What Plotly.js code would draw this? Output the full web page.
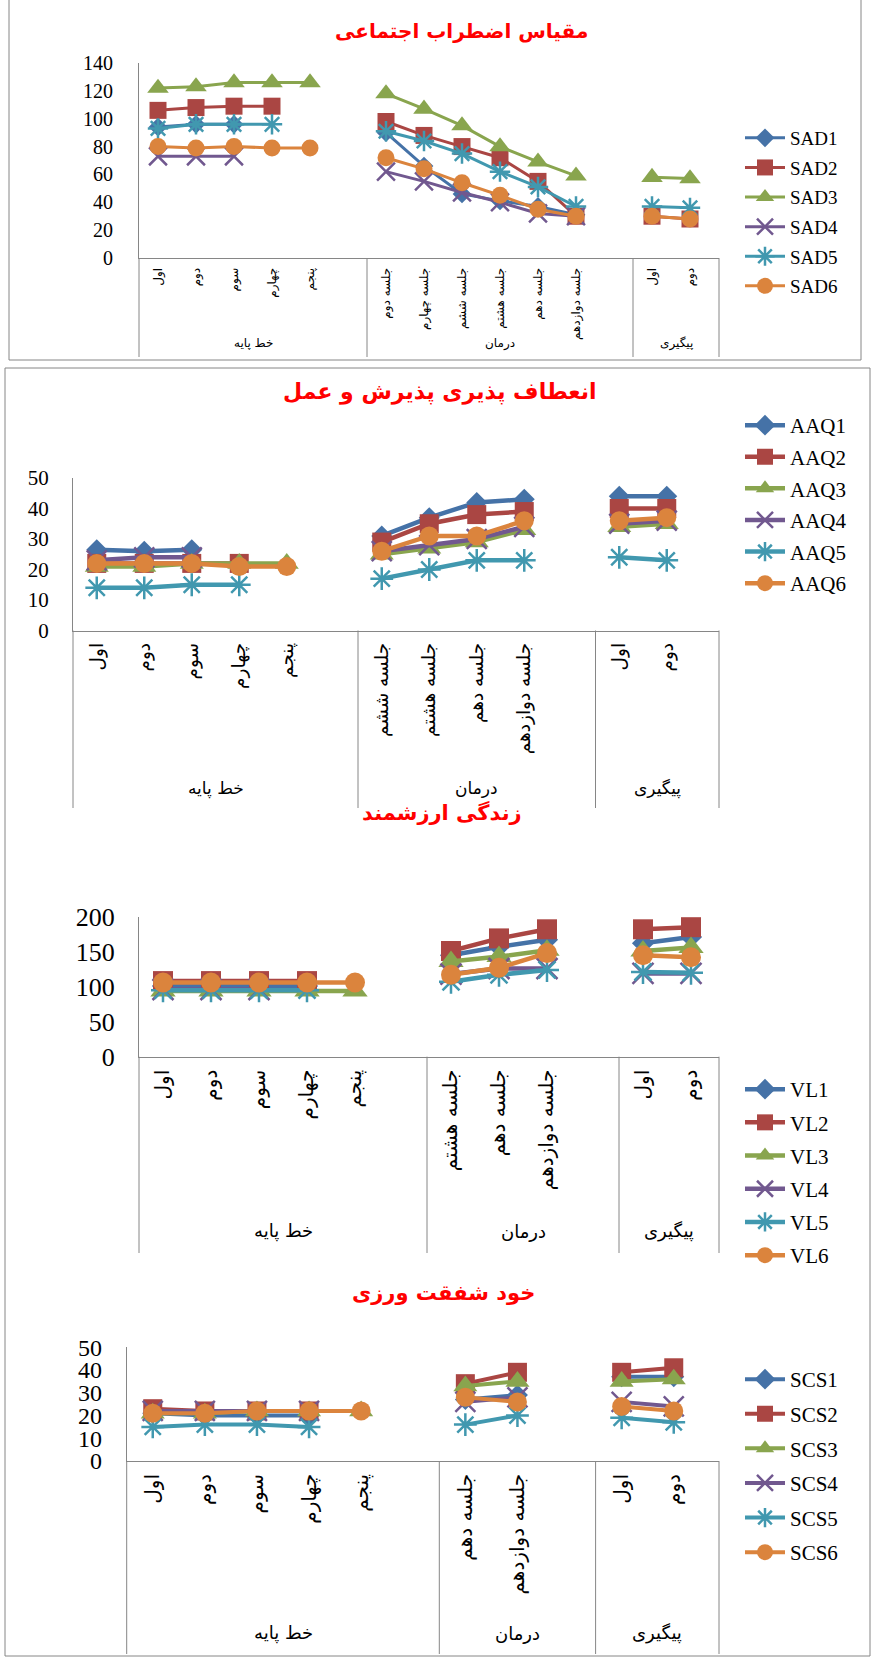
<!DOCTYPE html>
<html><head><meta charset="utf-8">
<script src="https://cdn.plot.ly/plotly-3.0.1.min.js"></script>
<style>body{margin:0;background:#fff}#chart{width:872px;height:1660px}</style>
</head><body><div id="chart"></div>
<script>
// ---------- DATA ----------
const baseLabels = ['اول','دوم','سوم','چهارم','پنجم'];
const followLabels = ['اول','دوم'];
const groupLabels = ['خط پایه','درمان','پیگیری'];
const treatSAD = ['جلسه دوم','جلسه چهارم','جلسه ششم','جلسه هشتم','جلسه دهم','جلسه دوازدهم'];
const treatAAQ = ['جلسه ششم','جلسه هشتم','جلسه دهم','جلسه دوازدهم'];
const treatVL  = ['جلسه هشتم','جلسه دهم','جلسه دوازدهم'];
const treatSCS = ['جلسه دهم','جلسه دوازدهم'];
const titles = ['مقیاس اضطراب اجتماعی','انعطاف پذیری پذیرش و عمل','زندگی ارزشمند','خود شفقت ورزی'];

// values per slot: baseline | blank | treatment | blank | follow-up
const SAD1 = [94,96,96,null,null, null, 90,66,46,41,37,31, null, null,null];
const SAD2 = [106,108,109,109,null, null, 98,88,80,72,55,30, null, 30,28];
const SAD3 = [122,123,126,126,126, null, 118,107,95,80,69,59, null, 58,57];
const SAD4 = [73,73,73,null,null, null, 62,55,47,40,32,30, null, null,null];
const SAD5 = [93,96,96,96,null, null, 91,84,75,62,51,37, null, 37,36];
const SAD6 = [80,79,80,79,79, null, 72,64,54,45,35,30, null, 30,28];

const AAQ1 = [26.5,26,26.5,null,null, null, 31,37,42,43, null, 44,44];
const AAQ2 = [22,22,22,22,null, null, 29,35,38,39, null, 40,40];
const AAQ3 = [21,21,22,22,22, null, 25,27,29,33, null, 34,35];
const AAQ4 = [23,24,24,null,null, null, 26,28,30,34, null, 35,36];
const AAQ5 = [14,14,15,15,null, null, 17,20,23,23, null, 24,23];
const AAQ6 = [22,22,22,21,21, null, 26,31,31,36, null, 36,37];

const VL1 = [101,101,101,101,null, null, 145,157,167, null, 162,171];
const VL2 = [108,108,108,108,null, null, 151,169,182, null, 182,185];
const VL3 = [94,94,94,94,94, null, 136,143,152, null, 151,156];
const VL4 = [96,96,96,null,null, null, 118,126,126, null, 119,119];
const VL5 = [95,95,95,95,null, null, 107,117,124, null, 121,120];
const VL6 = [106,106,106,106,106, null, 117,127,148, null, 145,142];

const SCS1 = [21,20,20,20,null, null, 27,29, null, 37,37];
const SCS2 = [23,22,22,22,null, null, 34,39, null, 39,41];
const SCS3 = [21,21,22,22,22, null, 33,35, null, 35,36];
const SCS4 = [22,22,22,22,null, null, 26,28, null, 26,24];
const SCS5 = [15,16,16,15,null, null, 16,20, null, 19,17];
const SCS6 = [21,21,22,22,22, null, 28,26, null, 24,22];

const namesSAD = ['SAD1','SAD2','SAD3','SAD4','SAD5','SAD6'];
const namesAAQ = ['AAQ1','AAQ2','AAQ3','AAQ4','AAQ5','AAQ6'];
const namesVL  = ['VL1','VL2','VL3','VL4','VL5','VL6'];
const namesSCS = ['SCS1','SCS2','SCS3','SCS4','SCS5','SCS6'];

// ---------- STYLE ----------
const W = 872, H = 1660;
const px = x => x / W, py = y => 1 - y / H;
const colors  = ['#4572A7','#AA4643','#89A54E','#71588F','#4198AF','#DB843D'];
const symbols = ['diamond','square','triangle-up','x-thin-open','asterisk-open','circle'];
const sizeMul = [0.85,1,1.1,1.05,1,1];
const GRID = '#868686';
const FA = 'DejaVu Sans';
const SERIF = 'Liberation Serif, Times New Roman, serif';
const RIGHT = 719;

const panels = [
  {cats:[...baseLabels,'',...treatSAD,'',...followLabels], series:[SAD1,SAD2,SAD3,SAD4,SAD5,SAD6], names:namesSAD,
   left:139, slot:38, top:63, bottom:258, ymax:140, dtick:20, yFont:20, yOff:21, xFont:12, gFont:12,
   sepBottom:357, groupY:343, titleX:461, titleY:31, titleSize:20, legTop:119, legFont:19, legGap:1.9, ms:17, lw:3},
  {cats:[...baseLabels,'',...treatAAQ,'',...followLabels], series:[AAQ1,AAQ2,AAQ3,AAQ4,AAQ5,AAQ6], names:namesAAQ,
   left:73, slot:47.5, top:478, bottom:630.5, ymax:50, dtick:10, yFont:21, yOff:19, xFont:18.5, gFont:17,
   sepBottom:808, groupY:788, titleX:440, titleY:392, titleSize:22, legTop:405, legFont:21, legGap:1.3, ms:19, lw:4.5},
  {cats:[...baseLabels,'',...treatVL,'',...followLabels], series:[VL1,VL2,VL3,VL4,VL5,VL6], names:namesVL,
   left:139, slot:48, top:916.7, bottom:1056.7, ymax:200, dtick:50, yFont:26, yOff:18, xFont:20, gFont:18,
   sepBottom:1253, groupY:1231, titleX:442, titleY:813, titleSize:21, legTop:1069, legFont:21, legGap:2.9, ms:20, lw:4.5},
  {cats:[...baseLabels,'',...treatSCS,'',...followLabels], series:[SCS1,SCS2,SCS3,SCS4,SCS5,SCS6], names:namesSCS,
   left:126.7, slot:52.1, top:1347.3, bottom:1461, ymax:50, dtick:10, yFont:24, yOff:19, xFont:20, gFont:18,
   sepBottom:1654, groupY:1633, titleX:443, titleY:1293, titleSize:21, legTop:1359, legFont:21, legGap:4.3, ms:19, lw:4}
];

const data = [];
const layout = {
  width: W, height: H, margin:{l:0,r:0,t:0,b:0},
  paper_bgcolor:'#fff', plot_bgcolor:'rgba(0,0,0,0)',
  showlegend:true, annotations:[], shapes:[]
};

function line(x0,y0,x1,y1){
  layout.shapes.push({type:'line', xref:'paper', yref:'paper', x0:px(x0), y0:py(y0), x1:px(x1), y1:py(y1),
    line:{color:GRID, width:1}});
}

panels.forEach((p, k) => {
  const n = p.cats.length;
  const sfx = k === 0 ? '' : String(k + 1);
  const idx = p.cats.map((c,i)=>i);
  const blanks = idx.filter(i => p.cats[i] === '');
  const tickvals = idx.filter(i => p.cats[i] !== '');
  const xmax = (RIGHT - p.left) / p.slot - 0.5;
  layout['xaxis' + sfx] = {
    domain:[px(p.left), px(RIGHT)], range:[-0.5, xmax], anchor:'y' + sfx,
    tickvals: tickvals, ticktext: tickvals.map(i => p.cats[i]), tickangle:-90,
    tickfont:{family:FA, size:p.xFont, color:'#000'}, ticks:'', ticklabelstandoff:4,
    showline:true, linecolor:GRID, linewidth:1, showgrid:false, zeroline:false, fixedrange:true
  };
  layout['yaxis' + sfx] = {
    domain:[py(p.bottom), py(p.top)], range:[0, p.ymax], dtick:p.dtick, anchor:'x' + sfx,
    tickfont:{family:SERIF, size:p.yFont, color:'#000'}, ticks:'', ticklabelstandoff:p.yOff,
    showline:true, linecolor:GRID, linewidth:1, showgrid:false, zeroline:false, fixedrange:true
  };
  const legKey = 'legend' + sfx;
  layout[legKey] = {
    x:px(740), xanchor:'left', y:py(p.legTop), yanchor:'top', itemwidth:40,
    font:{family:SERIF, size:p.legFont, color:'#000'}, tracegroupgap:p.legGap,
    bgcolor:'rgba(0,0,0,0)'
  };
  p.series.forEach((vals, s) => {
    const open = symbols[s].endsWith('-open');
    data.push({
      type:'scatter', mode:'lines+markers', name:p.names[s],
      x: idx, y: vals, connectgaps:false, cliponaxis:false,
      xaxis:'x' + sfx, yaxis:'y' + sfx, legend:legKey, legendgroup:'g' + k + s,
      line:{color:colors[s], width:p.lw},
      marker:{symbol:symbols[s], size:p.ms * sizeMul[s], color:colors[s],
        line:{color:colors[s], width: open ? 2.5 : 0}}
    });
  });
  // title
  layout.annotations.push({xref:'paper', yref:'paper', x:px(p.titleX), y:py(p.titleY), xanchor:'center', yanchor:'middle',
    text:'<b>' + titles[k] + '</b>', showarrow:false, font:{family:FA, size:p.titleSize, color:'#FF0000'}});
  // group separators and labels
  const toPx = v => p.left + p.slot * (v + 0.5);
  const bounds = [p.left, toPx(blanks[0] + 0.5), toPx(blanks[1] + 0.5), RIGHT];
  bounds.forEach(b => line(b, p.bottom, b, p.sepBottom));
  for (let g = 0; g < 3; g++) {
    const cx = (bounds[g] + bounds[g + 1]) / 2;
    layout.annotations.push({xref:'paper', yref:'paper', x:px(cx), y:py(p.groupY), xanchor:'center', yanchor:'middle',
      text:groupLabels[g], showarrow:false, font:{family:FA, size:p.gFont, color:'#000'}});
  }
});

// panel frames
line(9, 0, 9, 360); line(861, 0, 861, 360); line(9, 360, 861, 360);
line(5, 368, 870, 368); line(5, 368, 5, 1656); line(870, 368, 870, 1656); line(5, 1656, 870, 1656);

Plotly.newPlot('chart', data, layout, {staticPlot:true});
</script>
</body></html>
